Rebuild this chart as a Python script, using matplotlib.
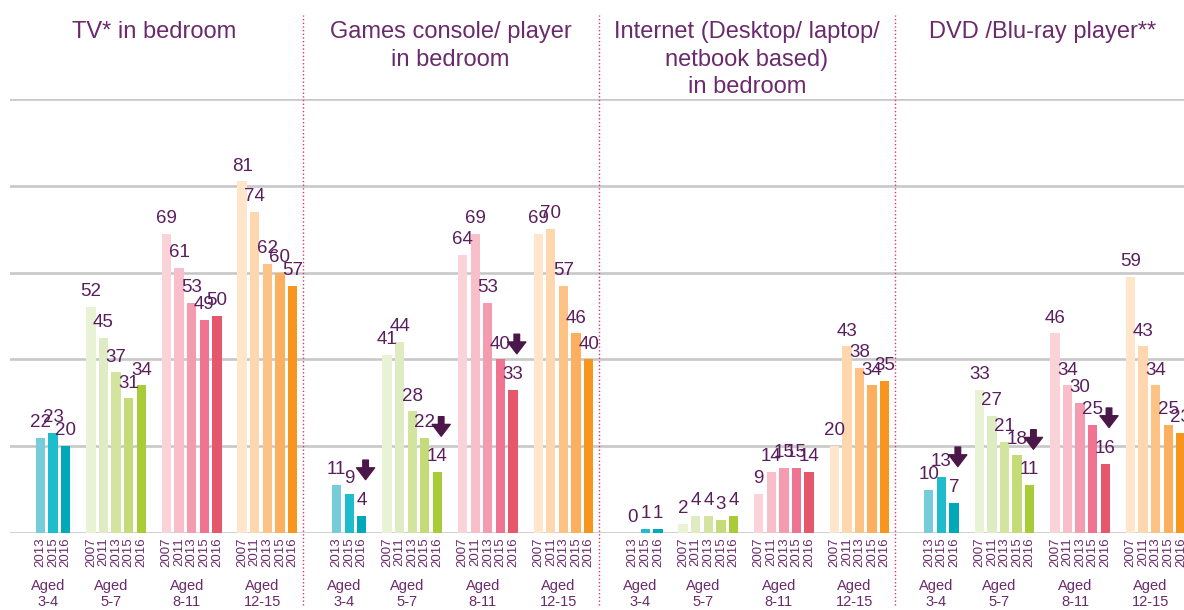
import matplotlib
matplotlib.use('Agg')
import matplotlib.pyplot as plt
from matplotlib.patches import FancyArrowPatch

plt.rcParams['font.family'] = ['Liberation Sans', 'DejaVu Sans']

# data
panel_titles = ['TV* in bedroom',
                'Games console/ player\nin bedroom',
                'Internet (Desktop/ laptop/\nnetbook based)\nin bedroom',
                'DVD /Blu-ray player**']
age_groups = ['Aged\n3-4', 'Aged\n5-7', 'Aged\n8-11', 'Aged\n12-15']
years_young = ['2013', '2015', '2016']
years_old = ['2007', '2011', '2013', '2015', '2016']

tv = [[22, 23, 20], [52, 45, 37, 31, 34], [69, 61, 53, 49, 50], [81, 74, 62, 60, 57]]
games = [[11, 9, 4], [41, 44, 28, 22, 14], [64, 69, 53, 40, 33], [69, 70, 57, 46, 40]]
internet = [[0, 1, 1], [2, 4, 4, 3, 4], [9, 14, 15, 15, 14], [20, 43, 38, 34, 35]]
dvd = [[10, 13, 7], [33, 27, 21, 18, 11], [46, 34, 30, 25, 16], [59, 43, 34, 25, 23]]
panel_values = [tv, games, internet, dvd]

# (panel, age group) with a significant fall 2015 -> 2016
down_arrows = [(1, 0), (1, 1), (1, 2), (3, 0), (3, 1), (3, 2)]

group_colors = [
    ['#77CCD9', '#1DBDCD', '#00A8BA'],
    ['#E9F2D5', '#DFEBC2', '#D3E49E', '#C4DB78', '#A8CC38'],
    ['#FAD2D8', '#F8BFCB', '#F49BAF', '#F07392', '#E5576A'],
    ['#FFE6CA', '#FFD7AE', '#FDC385', '#FBAF5F', '#F7951E'],
]

txt_col = '#6A2A6C'
val_col = '#5A1E5E'
arrow_col = '#4A1748'
grid_col = '#C8C8C8'

W, H = 1184, 610
fig = plt.figure(figsize=(W / 100, H / 100), dpi=100)
ax = fig.add_axes([10 / W, 77 / H, (W - 10) / W, 434 / H])

period = 23.5   # slots per panel
bar_w = 0.74

for y in range(0, 101, 20):
    ax.axhline(y, color=grid_col, lw=1.9, zorder=0)

for p, groups in enumerate(panel_values):
    base = p * period
    start = 0
    for g, vals in enumerate(groups):
        years = years_young if len(vals) == 3 else years_old
        xs = [base + start + i for i in range(len(vals))]
        ax.bar(xs, vals, width=bar_w, color=group_colors[g], zorder=2)
        for x, v, yr in zip(xs, vals, years):
            ax.text(x, v + 2.5, str(v), ha='center', va='baseline',
                    fontsize=13.5, color=val_col, zorder=4)
            ax.text(x, -1.0, yr, rotation=90, ha='center', va='top',
                    fontsize=9.5, color=txt_col, clip_on=False)
        gx = (xs[0] + xs[-1]) / 2 - 0.4
        ax.text(gx, -10.6, age_groups[g], ha='center', va='top',
                fontsize=10.5, color=txt_col, linespacing=1.2, clip_on=False)
        if (p, g) in down_arrows:
            ax_x = xs[-1] + 0.3
            v16 = vals[-1]
            arr = FancyArrowPatch((ax_x, v16 + 12.8), (ax_x, v16 + 8.3),
                                  arrowstyle='simple,head_length=0.85,head_width=1.3,tail_width=0.4',
                                  mutation_scale=10, color=arrow_col,
                                  shrinkA=0, shrinkB=0, zorder=5)
            ax.add_patch(arr)
        start += len(vals) + 1

    # panel title and divider
    ax.text(base + 9.05, 118.0, panel_titles[p], ha='center', va='top',
            fontsize=17, color=txt_col, linespacing=1.34, zorder=5,
            clip_on=False)
    if p > 0:
        ax.axvline(base - 2.7, ymin=-0.166, ymax=1.194, color='#E0336E',
                   lw=1.0, ls=':', clip_on=False, zorder=3)

ax.set_xlim(-2.42, 90.75)
ax.set_ylim(0, 100)
ax.axis('off')

plt.savefig('out.png', dpi=100)
plt.close(fig)
